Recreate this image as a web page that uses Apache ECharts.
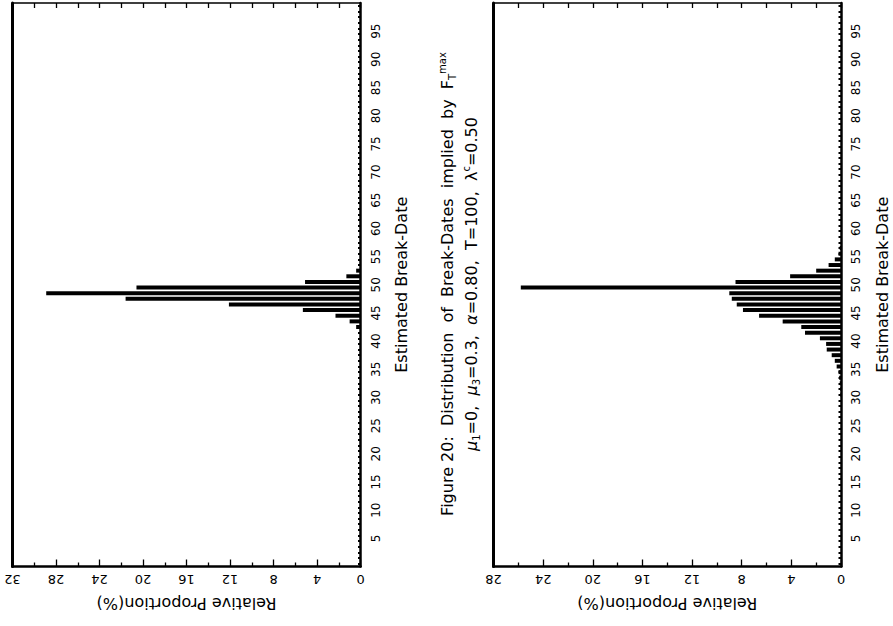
<!DOCTYPE html>
<html><head><meta charset="utf-8">
<script src="https://cdn.jsdelivr.net/npm/echarts@6/dist/echarts.min.js"></script>
<style>html,body{margin:0;padding:0;background:#fff}#c{width:893px;height:626px}</style>
</head><body><div id="c"></div>
<script>
// Break-date categories (histogram bins 1..100)
const breakDates = [
  1,2,3,4,5,6,7,8,9,10, 11,12,13,14,15,16,17,18,19,20,
  21,22,23,24,25,26,27,28,29,30, 31,32,33,34,35,36,37,38,39,40,
  41,42,43,44,45,46,47,48,49,50, 51,52,53,54,55,56,57,58,59,60,
  61,62,63,64,65,66,67,68,69,70, 71,72,73,74,75,76,77,78,79,80,
  81,82,83,84,85,86,87,88,89,90, 91,92,93,94,95,96,97,98,99,100
];
// Left panel: relative proportion (%)
const leftValues = [
  0,0,0,0,0,0,0,0,0,0,
  0,0,0,0,0,0,0,0,0,0,
  0,0,0,0,0,0,0,0,0,0,
  0,0,0,0,0,0,0,0,0,0,
  0,0,0.4,1.0,2.3,5.3,12.1,21.6,28.9,20.6,
  5.1,1.3,0.4,0,0,0,0,0,0,0,
  0,0,0,0,0,0,0,0,0,0,
  0,0,0,0,0,0,0,0,0,0,
  0,0,0,0,0,0,0,0,0,0,
  0,0,0,0,0,0,0,0,0,0
];
// Right panel: relative proportion (%)
const rightValues = [
  0,0,0,0,0,0,0,0,0,0,
  0,0,0,0,0,0,0,0,0,0,
  0,0,0,0,0,0,0,0,0,0,
  0.05,0.05,0.1,0.15,0.2,0.35,0.5,0.75,1.15,1.2,
  1.7,2.9,3.2,4.7,6.6,7.9,8.4,8.8,9.0,25.8,
  8.5,4.1,2.0,1.0,0.5,0.2,0.1,0,0,0,
  0,0,0,0,0,0,0,0,0,0,
  0,0,0,0,0,0,0,0,0,0,
  0,0,0,0,0,0,0,0,0,0,
  0,0,0,0,0,0,0,0,0,0
];
const leftPropTicks = [0,4,8,12,16,20,24,28,32];
const rightPropTicks = [0,4,8,12,16,20,24,28];
const dateTicks = [5,10,15,20,25,30,35,40,45,50,55,60,65,70,75,80,85,90,95];

const FONT = 'DejaVu Sans';
const BLACK = '#000';
const chart = echarts.init(document.getElementById('c'), null, {renderer: 'svg'});

const grids = [
  {left: 12.5, top: 1, width: 348, height: 565.5},
  {left: 493.5, top: 1, width: 347.5, height: 565.5}
];
const xAxes = [], yAxes = [], series = [];
[[leftPropTicks, leftValues], [rightPropTicks, rightValues]].forEach(([ticks, vals], g) => {
  const mx = ticks[ticks.length - 1];
  // bottom value axis
  xAxes.push({
    type: 'value', gridIndex: g, position: 'bottom', inverse: true,
    min: 0, max: mx, interval: 4,
    axisLine: {show: true, onZero: false, lineStyle: {color: BLACK, width: 2.7}},
    axisTick: {show: true, inside: true, length: 7, lineStyle: {color: BLACK, width: 1.3}},
    minorTick: {show: true, splitNumber: 2, length: 4, lineStyle: {color: BLACK, width: 1.3}},
    splitLine: {show: false}, minorSplitLine: {show: false},
    axisLabel: {show: true, rotate: 180, margin: 6, color: BLACK, fontFamily: FONT, fontSize: 13},
    name: 'Relative Proportion(%)', nameLocation: 'middle', nameRotate: 180, nameGap: 29,
    nameTextStyle: {color: BLACK, fontFamily: FONT, fontSize: 16}
  });
  // top mirrored axis
  xAxes.push({
    type: 'value', gridIndex: g, position: 'top', inverse: true,
    min: 0, max: mx, interval: 4,
    axisLine: {show: true, onZero: false, lineStyle: {color: BLACK, width: 1.5}},
    axisTick: {show: true, inside: true, length: 5, lineStyle: {color: BLACK, width: 1.3}},
    minorTick: {show: true, splitNumber: 2, length: 5, lineStyle: {color: BLACK, width: 1.3}},
    splitLine: {show: false}, axisLabel: {show: false}
  });
  // category axis for bars (right side)
  yAxes.push({
    type: 'category', gridIndex: g, position: 'right', data: breakDates,
    boundaryGap: true,
    axisLine: {show: true, onZero: false, lineStyle: {color: BLACK, width: 2.5}},
    axisTick: {show: true, inside: true, alignWithLabel: true, interval: 0, length: 2.5, lineStyle: {color: BLACK, width: 2}},
    axisLabel: {show: false}, splitLine: {show: false}
  });
  // value axis for break-date labels
  yAxes.push({
    type: 'value', gridIndex: g, position: 'right', min: 0, max: 100, interval: 5,
    axisLine: {show: false, onZero: false}, axisTick: {show: false}, splitLine: {show: false},
    axisLabel: {
      show: true, rotate: 90, margin: 9, color: BLACK, fontFamily: FONT, fontSize: 12,
      formatter: v => dateTicks.includes(v) ? String(v) : ''
    },
    name: 'Estimated Break-Date', nameLocation: 'middle', nameRotate: 90, nameGap: 33,
    nameTextStyle: {color: BLACK, fontFamily: FONT, fontSize: 16}
  });
  // left frame line
  yAxes.push({
    type: 'value', gridIndex: g, position: 'left', min: 0, max: 100,
    axisLine: {show: true, onZero: false, lineStyle: {color: BLACK, width: 3}},
    axisTick: {show: false}, axisLabel: {show: false}, splitLine: {show: false}
  });
  series.push({
    type: 'bar', xAxisIndex: g * 2, yAxisIndex: g * 3,
    data: vals, barWidth: 4, itemStyle: {color: BLACK}, silent: true, animation: false
  });
});

chart.setOption({
  backgroundColor: '#fff',
  animation: false,
  grid: grids,
  xAxis: xAxes,
  yAxis: yAxes,
  series: series,
  graphic: [
    {type: 'text', x: 447, y: 284, rotation: Math.PI / 2,
     style: {text: 'Figure 20:  Distribution  of  Break-Dates  implied  by  F{sub|T}{sup|max}',
       font: '16px "DejaVu Sans"', fill: BLACK, align: 'center', verticalAlign: 'middle',
       rich: {sub: {fontSize: 10, fontFamily: FONT, verticalAlign: 'bottom', lineHeight: 20},
              sup: {fontSize: 10, fontFamily: FONT, verticalAlign: 'top', lineHeight: 20}}}},
    {type: 'text', x: 471, y: 284, rotation: Math.PI / 2,
     style: {text: '{it|μ}{sub|1}=0,  {it|μ}{sub|3}=0.3,  {it|α}=0.80,  T=100,  λ{sup|c}=0.50',
       font: '16px "DejaVu Sans"', fill: BLACK, align: 'center', verticalAlign: 'middle',
       rich: {it: {fontSize: 16, fontFamily: FONT, fontStyle: 'italic'},
              sub: {fontSize: 10, fontFamily: FONT, verticalAlign: 'bottom', lineHeight: 20},
              sup: {fontSize: 10, fontFamily: FONT, verticalAlign: 'top', lineHeight: 20}}}}
  ]
});
</script></body></html>
